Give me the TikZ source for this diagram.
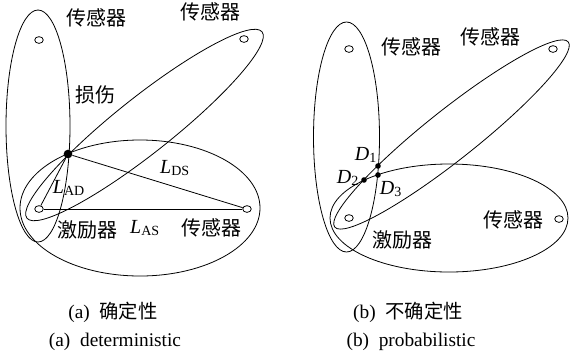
\documentclass[tikz,border=0pt]{standalone}
\usepackage{fontspec}
\usepackage{amsmath}
\setmainfont{Liberation Serif}
\newfontfamily\cjk{Noto Sans CJK SC}
\usetikzlibrary{shapes.geometric}

\begin{document}
\begin{tikzpicture}[
  x=0.75pt, y=-0.75pt,
  font=\fontsize{15}{18}\selectfont,
  zone/.style={draw=black, line width=0.6pt},
  link/.style={draw=black, line width=0.6pt},
  transducer/.style={ellipse, draw=black, line width=0.6pt, fill=white,
    minimum width=6.4pt, minimum height=5pt, inner sep=0pt},
  damage/.style={circle, fill=black, minimum size=6.5pt, inner sep=0pt},
  spot/.style={circle, fill=black, minimum size=4.2pt, inner sep=0pt},
  lab/.style={font=\cjk\fontsize{15}{18}\selectfont, inner sep=0pt},
  sym/.style={font=\fontsize{15}{18}\selectfont, inner sep=0pt},
  captext/.style={font=\fontsize{14.5}{17}\selectfont, inner sep=0pt},
]
\useasboundingbox (0,0) rectangle (570,358);

% ===== (a) deterministic =====
\draw[zone] (38,126) ellipse [x radius=32, y radius=116];
\draw[zone, rotate around={38.4:(144.5,125)}] (144.5,125) ellipse [x radius=150, y radius=28];
\draw[zone] (140,208) ellipse [x radius=120, y radius=68];

\node[transducer] (sa1) at (39,40) {};
\node[transducer] (sa2) at (244,39) {};
\node[transducer] (sa3) at (247,209) {};
\node[transducer] (aa) at (39,209) {};
\node[damage] (dmg) at (68,154) {};

\draw[link] (dmg) -- (aa);
\draw[link] (dmg) -- (sa3);
\draw[link] (aa) -- (sa3);

\node[lab] at (96,18) {传感器};
\node[lab] at (210,12) {传感器};
\node[lab] at (95,95) {损伤};
\node[sym] at (175,168) {\textit{L}$_\text{DS}$};
\node[sym] at (69,188) {\textit{L}$_\text{AD}$};
\node[lab] at (87,230) {激励器};
\node[sym] at (145,228) {\textit{L}$_\text{AS}$};
\node[lab] at (211,228) {传感器};

% ===== (b) probabilistic =====
\draw[zone] (346.5,137) ellipse [x radius=33, y radius=115];
\draw[zone, rotate around={38.4:(451.5,134.5)}] (451.5,134.5) ellipse [x radius=149, y radius=25];
\draw[zone] (449,218) ellipse [x radius=119, y radius=54];

\node[transducer] (sb1) at (349,49) {};
\node[transducer] (sb2) at (553,49) {};
\node[transducer] (sb3) at (559,219) {};
\node[transducer] (ab) at (349,218) {};

\node[spot] (d1) at (378,166) {};
\node[spot] (d2) at (364,180) {};
\node[spot] (d3) at (378,175) {};

\node[sym] at (366,155) {\textit{D}$_\text{1}$};
\node[sym] at (348,178) {\textit{D}$_\text{2}$};
\node[sym] at (391,189) {\textit{D}$_\text{3}$};

\node[lab] at (411,47) {传感器};
\node[lab] at (490,37) {传感器};
\node[lab] at (513,220) {传感器};
\node[lab] at (402,240) {激励器};

% ===== captions =====
\node[captext] at (113,312) {(a)\hspace{0.5em}{\cjk 确定性}};
\node[captext] at (115,342) {(a)\hspace{0.5em}deterministic};
\node[captext] at (408,312) {(b)\hspace{0.5em}{\cjk 不确定性}};
\node[captext] at (411,342) {(b)\hspace{0.5em}probabilistic};

\end{tikzpicture}
\end{document}
